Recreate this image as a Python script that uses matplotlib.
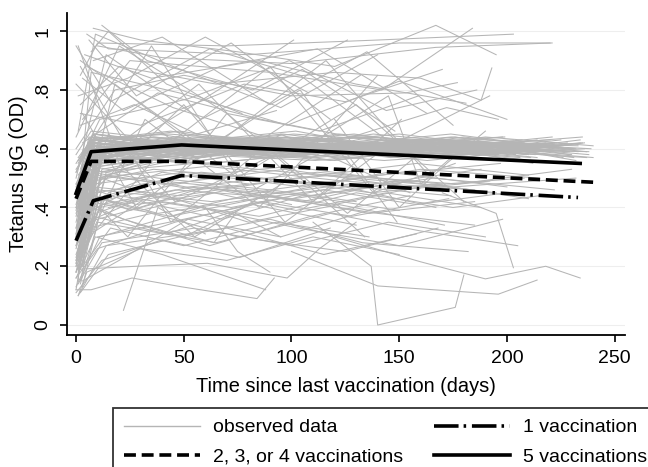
import numpy as np
import matplotlib
matplotlib.use('Agg')
import matplotlib.pyplot as plt
from matplotlib.lines import Line2D

plt.rcParams['font.family'] = ['Liberation Sans', 'DejaVu Sans']

# observed trajectories, one list per subject (days since last vaccination, OD)
obs_days = [
    # dense band around .55-.65
    [1, 8, 45, 110, 170, 228], [0, 7, 52, 98, 160, 215], [2, 10, 60, 120, 185, 232],
    [1, 6, 40, 105, 150, 205], [0, 9, 55, 115, 178, 236], [3, 12, 48, 92, 140, 198],
    [1, 7, 35, 88, 145, 210], [0, 8, 62, 128, 190, 240], [2, 14, 58, 112, 175, 225],
    [1, 7, 44, 100, 158, 212], [0, 6, 50, 118, 181], [2, 9, 66, 130, 196],
    [1, 11, 42, 95, 163, 220], [0, 8, 57, 122, 188, 230], [3, 10, 38, 90, 137, 200],
    [1, 7, 53, 108, 172, 226], [0, 12, 64, 125, 184], [2, 8, 47, 102, 155, 208],
    [1, 6, 36, 85, 148, 214], [0, 9, 59, 117, 179, 238], [2, 10, 45, 97, 152],
    [1, 7, 68, 135, 192, 232], [0, 13, 51, 104, 166, 218], [3, 8, 40, 93, 142, 203],
    [1, 9, 56, 113, 176, 229], [0, 7, 43, 99, 157, 206], [2, 11, 61, 127, 187],
    [1, 8, 49, 106, 169, 224], [0, 6, 37, 89, 139, 199], [2, 10, 54, 119, 182, 235],
    [1, 7, 46, 101, 161], [0, 9, 63, 124, 186, 231], [3, 12, 41, 94, 146, 209],
    [1, 8, 58, 116, 174, 227], [0, 7, 50, 109, 167, 221], [2, 9, 39, 91, 143, 201],
    [1, 10, 65, 131, 193, 237], [0, 8, 48, 103, 159, 213], [2, 14, 55, 111, 173],
    [1, 7, 42, 96, 153, 207], [0, 6, 60, 121, 183, 233], [3, 11, 44, 98, 151, 211],
    [1, 9, 52, 107, 164, 219], [0, 7, 57, 114, 177], [2, 8, 34, 87, 138, 196],
    [1, 10, 62, 126, 189, 234], [0, 12, 47, 100, 156, 204], [2, 7, 53, 110, 171, 223],
    [1, 9, 45, 92, 147], [0, 8, 59, 120, 180, 228],
    [0, 5, 30, 75, 135, 190, 238], [1, 10, 47, 85, 128, 172, 222], [2, 8, 28, 70, 112, 165, 217],
    [0, 12, 52, 90, 134, 179, 226], [1, 7, 33, 79, 123, 168, 214], [3, 9, 55, 96, 141, 186, 236],
    [0, 6, 41, 83, 127, 175, 229], [1, 11, 57, 101, 149, 194], [2, 7, 38, 81, 124, 170, 218],
    [0, 9, 46, 88, 132, 177, 231], [1, 8, 50, 94, 138, 183, 235], [0, 13, 60, 104, 146, 191],
    [2, 6, 31, 73, 117, 162, 209], [1, 10, 44, 86, 130, 174, 225], [0, 7, 54, 99, 144, 188, 239],
    [3, 12, 48, 91, 136, 180, 228], [1, 8, 35, 77, 121, 166, 213], [0, 9, 58, 103, 148, 193, 237],
    [2, 11, 43, 84, 129, 171, 220], [1, 7, 51, 95, 139, 184], [0, 10, 39, 80, 125, 169, 216],
    [2, 8, 62, 106, 151, 197, 233], [1, 14, 45, 89, 133, 178], [0, 6, 29, 71, 115, 160, 207],
    [1, 9, 53, 97, 142, 187, 234], [3, 7, 36, 78, 120, 164, 211], [0, 11, 56, 100, 145, 190, 240],
    [2, 8, 42, 87, 131, 176, 224],
    # middle .4-.55
    [1, 8, 50, 105, 160, 215], [0, 10, 45, 99, 150], [2, 7, 56, 118, 177, 230],
    [1, 12, 40, 95, 145, 200], [0, 9, 61, 124, 185], [3, 8, 48, 102, 158, 210],
    [1, 11, 53, 112, 170], [0, 7, 38, 90, 141, 197], [2, 10, 66, 129, 188],
    [1, 9, 43, 97, 153, 208], [0, 13, 58, 115, 174], [2, 8, 36, 86, 137, 192],
    [1, 6, 51, 108, 166, 222], [0, 10, 63, 127], [3, 12, 46, 101, 155],
    [1, 8, 55, 113, 175, 232],
    [5, 40, 85, 130, 175, 215], [10, 50, 95, 140, 185], [3, 30, 70, 120, 165, 210],
    [15, 60, 105, 150, 195],
    # low values
    [0, 7, 26, 49, 84, 92], [2, 28, 61, 98, 113, 130], [22, 38, 60],
    [110, 137, 140, 176, 180], [120, 160, 190, 218, 234], [100, 140, 196, 214],
    [170, 195, 203], [1, 5, 30, 70, 110, 150], [0, 9, 40, 88],
    [1, 12, 55, 100, 145, 190], [0, 6, 35, 75, 125, 168], [2, 15, 48, 90, 133, 182],
    [1, 8, 42, 82, 130], [0, 10, 65, 118, 160, 205], [3, 20, 52, 95, 140],
    [1, 7, 30, 62, 109, 155], [0, 11, 58, 103, 150, 198], [2, 9, 37, 80, 122, 171],
    [1, 14, 70, 115, 158], [0, 6, 44, 91, 136, 185], [60, 75, 90], [45, 64, 74, 95],
    [0, 4, 15, 40, 80], [1, 3, 12, 35], [0, 5, 20, 55, 90, 130], [1, 6, 25, 60, 100],
    [2, 9, 30, 68, 105, 150], [0, 7, 22, 50, 78], [1, 8, 33, 72, 115, 158, 200],
    [0, 10, 46, 86, 128, 173], [3, 16, 50, 93, 136], [1, 5, 28, 64, 102, 144, 188],
    [0, 12, 40, 76, 118], [2, 7, 38, 83, 125, 167],
    # high values
    [2, 10, 70, 140, 203], [5, 15, 80, 150, 220], [8, 30, 75, 120, 167, 195],
    [3, 25, 90, 142, 184], [10, 40, 100, 167, 221], [2, 20, 65, 120, 160, 188, 193],
    [0, 18, 50, 100, 153, 177], [4, 35, 85, 130, 181], [1, 9, 45, 95, 140],
    [6, 28, 72, 118], [0, 14, 58, 105, 148], [3, 22, 67, 112, 163],
    [1, 7, 48, 98, 150, 200], [8, 40, 90, 135, 175], [0, 16, 62, 104, 146],
    [2, 30, 78, 125, 170], [1, 11, 52, 99, 144, 186], [12, 33, 82, 126],
    [0, 20, 70, 113, 159], [5, 45, 88, 132], [1, 24, 60, 108],
    [3, 38, 86, 128, 172, 196], [7, 15, 42, 77], [2, 27, 56, 93], [0, 26, 66, 101],
    # large swings
    [1, 20, 55, 100], [0, 32, 85, 140], [2, 44, 95, 155], [1, 18, 75, 130, 180],
    [5, 35, 80, 122], [0, 50, 97, 143, 192], [3, 28, 66, 116, 165],
    [1, 40, 90, 138, 176], [8, 57, 110, 151], [0, 24, 70, 126, 162],
    [2, 60, 104, 149], [1, 15, 46, 92, 134], [110, 145, 160, 182], [120, 150, 172, 190],
]
obs_igg = [
    [0.32, 0.58, 0.62, 0.60, 0.63, 0.59], [0.41, 0.62, 0.60, 0.64, 0.58, 0.61], [0.25, 0.55, 0.63, 0.57, 0.62, 0.56],
    [0.48, 0.64, 0.58, 0.62, 0.65, 0.60], [0.37, 0.60, 0.65, 0.61, 0.57, 0.62], [0.20, 0.52, 0.59, 0.63, 0.60, 0.64],
    [0.44, 0.57, 0.62, 0.58, 0.63, 0.58], [0.52, 0.65, 0.61, 0.64, 0.60, 0.57], [0.30, 0.61, 0.56, 0.62, 0.59, 0.63],
    [0.57, 0.63, 0.66, 0.59, 0.62, 0.55], [0.35, 0.54, 0.60, 0.56, 0.61], [0.46, 0.59, 0.64, 0.62, 0.58],
    [0.18, 0.50, 0.58, 0.61, 0.56, 0.60], [0.40, 0.63, 0.59, 0.65, 0.61, 0.58], [0.28, 0.56, 0.61, 0.57, 0.64, 0.60],
    [0.50, 0.61, 0.63, 0.60, 0.58, 0.61], [0.22, 0.57, 0.55, 0.60, 0.63], [0.38, 0.60, 0.62, 0.66, 0.59, 0.62],
    [0.45, 0.58, 0.64, 0.60, 0.62, 0.57], [0.33, 0.62, 0.57, 0.63, 0.60, 0.59], [0.42, 0.55, 0.60, 0.58, 0.63],
    [0.54, 0.64, 0.61, 0.59, 0.62, 0.60], [0.27, 0.59, 0.63, 0.61, 0.57, 0.62], [0.36, 0.61, 0.58, 0.64, 0.61, 0.63],
    [0.49, 0.57, 0.62, 0.59, 0.64, 0.58], [0.31, 0.63, 0.65, 0.62, 0.60, 0.57], [0.24, 0.54, 0.59, 0.62, 0.60],
    [0.43, 0.60, 0.57, 0.60, 0.63, 0.61], [0.55, 0.62, 0.60, 0.57, 0.62, 0.64], [0.39, 0.58, 0.64, 0.60, 0.58, 0.62],
    [0.34, 0.56, 0.61, 0.65, 0.62], [0.47, 0.65, 0.60, 0.58, 0.61, 0.57], [0.21, 0.53, 0.57, 0.62, 0.59, 0.61],
    [0.51, 0.59, 0.63, 0.61, 0.65, 0.60], [0.29, 0.61, 0.58, 0.63, 0.60, 0.64], [0.44, 0.64, 0.62, 0.59, 0.56, 0.59],
    [0.37, 0.57, 0.61, 0.64, 0.62, 0.59], [0.53, 0.62, 0.66, 0.60, 0.63, 0.58], [0.19, 0.52, 0.58, 0.56, 0.60],
    [0.40, 0.60, 0.63, 0.61, 0.58, 0.63], [0.46, 0.58, 0.55, 0.59, 0.62, 0.61], [0.32, 0.63, 0.61, 0.64, 0.61, 0.56],
    [0.26, 0.55, 0.60, 0.57, 0.62, 0.59], [0.58, 0.66, 0.62, 0.60, 0.57], [0.35, 0.59, 0.62, 0.60, 0.65, 0.61],
    [0.42, 0.61, 0.58, 0.62, 0.59, 0.63], [0.23, 0.56, 0.64, 0.59, 0.61, 0.58], [0.50, 0.63, 0.59, 0.63, 0.60, 0.62],
    [0.30, 0.58, 0.56, 0.61, 0.58], [0.45, 0.60, 0.62, 0.58, 0.64, 0.60],
    [0.30, 0.56, 0.60, 0.63, 0.59, 0.61, 0.58], [0.40, 0.62, 0.58, 0.61, 0.64, 0.60, 0.62], [0.22, 0.55, 0.63, 0.60, 0.57, 0.61, 0.59],
    [0.45, 0.60, 0.56, 0.62, 0.60, 0.63, 0.57], [0.36, 0.64, 0.61, 0.58, 0.62, 0.59, 0.63], [0.28, 0.58, 0.62, 0.65, 0.61, 0.58, 0.60],
    [0.52, 0.61, 0.59, 0.62, 0.58, 0.62, 0.59], [0.17, 0.54, 0.60, 0.57, 0.63, 0.60], [0.47, 0.63, 0.65, 0.60, 0.62, 0.57, 0.61],
    [0.33, 0.57, 0.62, 0.64, 0.59, 0.62, 0.60], [0.41, 0.59, 0.55, 0.60, 0.63, 0.61, 0.64], [0.26, 0.60, 0.64, 0.61, 0.57, 0.60],
    [0.50, 0.58, 0.61, 0.59, 0.63, 0.61, 0.58], [0.29, 0.62, 0.60, 0.57, 0.61, 0.64, 0.61], [0.43, 0.56, 0.63, 0.61, 0.58, 0.62, 0.60],
    [0.24, 0.59, 0.57, 0.63, 0.60, 0.58, 0.62], [0.38, 0.61, 0.64, 0.62, 0.59, 0.63, 0.59], [0.48, 0.64, 0.60, 0.58, 0.62, 0.59, 0.57],
    [0.31, 0.55, 0.59, 0.62, 0.65, 0.61, 0.63], [0.56, 0.62, 0.58, 0.61, 0.58, 0.62], [0.21, 0.57, 0.61, 0.59, 0.62, 0.60, 0.58],
    [0.44, 0.60, 0.62, 0.64, 0.60, 0.61, 0.59], [0.19, 0.51, 0.56, 0.60, 0.58, 0.61], [0.39, 0.60, 0.58, 0.62, 0.60, 0.63, 0.60],
    [0.35, 0.63, 0.60, 0.57, 0.61, 0.59, 0.62], [0.46, 0.58, 0.62, 0.60, 0.56, 0.60, 0.57], [0.27, 0.56, 0.58, 0.62, 0.60, 0.64, 0.61],
    [0.53, 0.65, 0.61, 0.63, 0.61, 0.58, 0.60],
    [0.28, 0.48, 0.52, 0.47, 0.53, 0.50], [0.22, 0.45, 0.50, 0.54, 0.49], [0.35, 0.52, 0.46, 0.51, 0.48, 0.53],
    [0.17, 0.43, 0.49, 0.45, 0.52, 0.47], [0.30, 0.50, 0.54, 0.49, 0.46], [0.26, 0.47, 0.44, 0.50, 0.55, 0.51],
    [0.20, 0.40, 0.47, 0.52, 0.48], [0.38, 0.54, 0.50, 0.46, 0.51, 0.55], [0.15, 0.42, 0.51, 0.47, 0.53],
    [0.33, 0.51, 0.48, 0.53, 0.47, 0.50], [0.18, 0.44, 0.52, 0.48, 0.44], [0.29, 0.49, 0.53, 0.50, 0.45, 0.49],
    [0.40, 0.53, 0.47, 0.44, 0.50, 0.46], [0.24, 0.46, 0.42, 0.48], [0.13, 0.41, 0.46, 0.43, 0.49],
    [0.36, 0.52, 0.55, 0.51, 0.47, 0.50],
    [0.35, 0.42, 0.37, 0.45, 0.40, 0.44], [0.30, 0.36, 0.43, 0.38, 0.34], [0.45, 0.39, 0.46, 0.41, 0.48, 0.43],
    [0.40, 0.47, 0.42, 0.49, 0.45],
    [0.12, 0.12, 0.16, 0.13, 0.09, 0.16], [0.19, 0.20, 0.21, 0.16, 0.26, 0.35], [0.05, 0.40, 0.31],
    [0.35, 0.20, 0.00, 0.06, 0.17], [0.30, 0.215, 0.157, 0.20, 0.16], [0.25, 0.133, 0.105, 0.153],
    [0.45, 0.38, 0.195], [0.10, 0.18, 0.26, 0.22, 0.30, 0.24], [0.16, 0.30, 0.24, 0.12],
    [0.14, 0.28, 0.33, 0.27, 0.35, 0.30], [0.21, 0.33, 0.38, 0.30, 0.25, 0.33], [0.11, 0.24, 0.30, 0.36, 0.28, 0.25],
    [0.26, 0.37, 0.31, 0.41, 0.34], [0.18, 0.35, 0.28, 0.38, 0.32, 0.27], [0.15, 0.22, 0.36, 0.30, 0.40],
    [0.23, 0.40, 0.34, 0.27, 0.37, 0.44], [0.13, 0.30, 0.40, 0.33, 0.27, 0.36], [0.28, 0.38, 0.45, 0.35, 0.41, 0.34],
    [0.10, 0.27, 0.33, 0.24, 0.31], [0.31, 0.42, 0.37, 0.44, 0.38, 0.42], [0.40, 0.25, 0.18], [0.32, 0.28, 0.38, 0.30],
    [0.12, 0.30, 0.45, 0.52, 0.48], [0.15, 0.35, 0.50, 0.44], [0.20, 0.38, 0.44, 0.40, 0.46, 0.42], [0.25, 0.45, 0.39, 0.47, 0.41],
    [0.14, 0.32, 0.42, 0.36, 0.44, 0.39], [0.18, 0.41, 0.36, 0.30, 0.40], [0.22, 0.36, 0.44, 0.40, 0.46, 0.41, 0.45],
    [0.16, 0.26, 0.35, 0.42, 0.37, 0.43], [0.20, 0.33, 0.27, 0.35, 0.30], [0.30, 0.47, 0.41, 0.45, 0.39, 0.45, 0.40],
    [0.11, 0.22, 0.29, 0.23, 0.33], [0.27, 0.44, 0.38, 0.43, 0.47, 0.40],
    [0.85, 0.96, 0.95, 0.97, 0.99], [0.99, 0.94, 0.92, 0.96, 0.96], [1.01, 0.97, 0.93, 0.88, 1.02, 0.92],
    [0.70, 0.90, 0.86, 0.80, 1.01], [0.95, 0.91, 0.89, 0.945, 0.96], [0.75, 0.88, 0.82, 0.86, 0.84, 0.765, 0.875],
    [0.60, 0.80, 0.85, 0.78, 0.79, 0.825], [0.92, 0.84, 0.90, 0.82, 0.755], [0.66, 0.99, 0.88, 0.74, 0.92],
    [0.97, 0.78, 0.96, 0.70], [0.50, 0.92, 0.70, 0.87, 0.66], [0.84, 0.73, 0.88, 0.94, 0.72],
    [0.42, 0.86, 0.79, 0.68, 0.83, 0.70], [0.90, 0.98, 0.75, 0.93, 0.68], [0.95, 0.76, 0.94, 0.85, 0.62],
    [0.72, 0.68, 0.82, 0.76, 0.87], [0.55, 0.70, 0.77, 0.90, 0.73, 0.80], [1.02, 0.90, 0.80, 0.97],
    [0.64, 0.95, 0.72, 0.66, 0.78], [0.88, 0.74, 0.64, 0.85], [0.78, 0.84, 0.98, 0.79],
    [0.62, 0.79, 0.70, 0.64, 0.74, 0.70], [0.93, 1.00, 0.82, 0.72], [0.68, 0.75, 0.65, 0.73], [0.82, 0.62, 0.80, 0.97],
    [0.95, 0.55, 0.30, 0.50], [0.20, 0.70, 0.40, 0.85], [0.88, 0.35, 0.65, 0.45], [0.30, 0.82, 0.50, 0.75, 0.42],
    [0.60, 0.95, 0.45, 0.62], [0.40, 0.75, 0.35, 0.60, 0.78], [0.72, 0.40, 0.62, 0.90, 0.50],
    [0.25, 0.60, 0.88, 0.45, 0.55], [0.55, 0.82, 0.42, 0.70], [0.48, 0.30, 0.72, 0.38, 0.60],
    [0.90, 0.60, 0.80, 0.35], [0.37, 0.65, 0.42, 0.58, 0.30], [0.62, 0.78, 0.48, 0.62], [0.70, 0.40, 0.55, 0.66],
]

# fitted mean curves
fit1_days = [0, 8, 49, 233]
fit1_igg = [0.287, 0.423, 0.509, 0.434]
fit234_days = [0, 7, 49, 240]
fit234_igg = [0.43, 0.557, 0.557, 0.486]
fit5_days = [0, 7, 49, 234]
fit5_igg = [0.448, 0.59, 0.613, 0.55]

yticks = [0, 0.2, 0.4, 0.6, 0.8, 1.0]
ytick_labels = ['0', '.2', '.4', '.6', '.8', '1']
xticks = [0, 50, 100, 150, 200, 250]

grey = '#b5b5b5'
dash_234 = (3.3, 1.6)
dash_1 = (6.8, 1.4, 0.7, 1.6)

fig = plt.figure(figsize=(6.48, 4.67), dpi=100)
ax = fig.add_axes([67/648, 1 - 335/467, (625 - 67)/648, (335 - 13)/467])

for y in yticks:
    ax.axhline(y, color='#eeeeee', lw=0.8, zorder=0)

for d, v in zip(obs_days, obs_igg):
    ax.plot(d, v, color=grey, lw=0.75, zorder=1)

ax.plot(fit1_days, fit1_igg, color='black', lw=2.6, dashes=dash_1, zorder=3)
ax.plot(fit234_days, fit234_igg, color='black', lw=2.6, dashes=dash_234, zorder=3)
ax.plot(fit5_days, fit5_igg, color='black', lw=2.6, zorder=3)

ax.set_xlim(-4.2, 254.8)
ax.set_ylim(-0.034, 1.062)
for s in ['top', 'right']:
    ax.spines[s].set_visible(False)
for s in ['left', 'bottom']:
    ax.spines[s].set_linewidth(1.3)

ax.set_xticks(xticks)
ax.set_yticks(yticks)
ax.set_yticklabels(ytick_labels, rotation=90, va='center')
ax.tick_params(axis='both', direction='out', length=5, width=1.2, labelsize=14, pad=6)
ax.set_xlabel('Time since last vaccination (days)', fontsize=14.4, labelpad=7)
ax.set_ylabel('Tetanus IgG (OD)', fontsize=14.4, labelpad=5)

handles = [
    Line2D([], [], color=grey, lw=1.0),
    Line2D([], [], color='black', lw=2.6, dashes=dash_234),
    Line2D([], [], color='black', lw=2.6, dashes=dash_1),
    Line2D([], [], color='black', lw=2.6),
]
labels = ['observed data', '2, 3, or 4 vaccinations', '1 vaccination', '5 vaccinations']
leg = fig.legend(handles, labels, ncol=2, loc='upper left',
                 bbox_to_anchor=(113/648, 1 - 408/467), borderaxespad=0, fontsize=14,
                 frameon=True, fancybox=False, handlelength=3.9, handletextpad=0.67,
                 columnspacing=1.6, borderpad=0.55, labelspacing=0.6)
leg.get_frame().set_edgecolor('black')
leg.get_frame().set_linewidth(1.3)

fig.savefig('out.png', dpi=100)
